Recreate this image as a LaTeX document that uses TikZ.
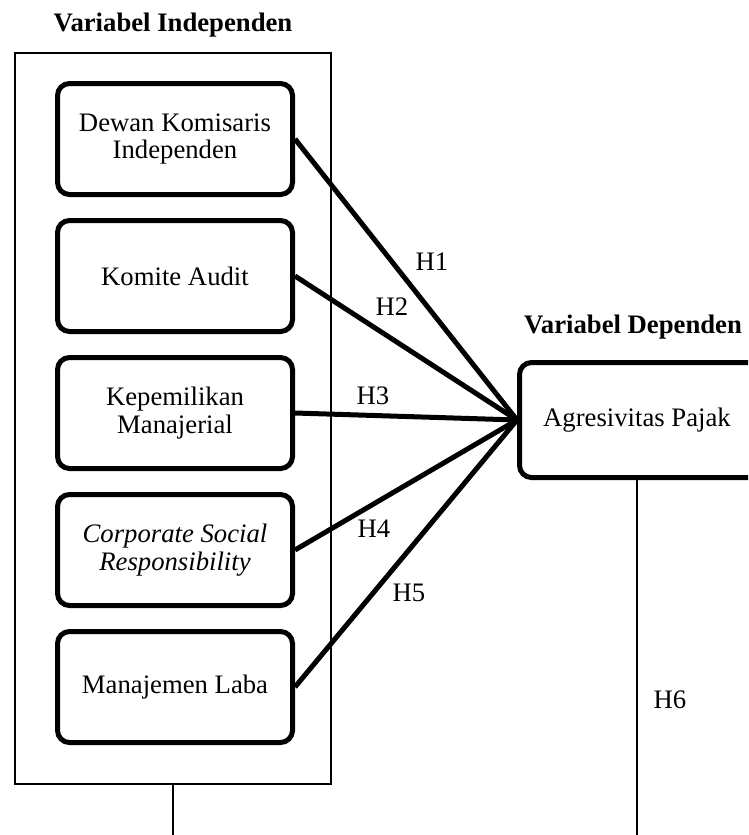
\documentclass[tikz,border=0pt]{standalone}
\usepackage{fontspec}
\setmainfont{Liberation Serif}
\usetikzlibrary{positioning, calc}

\tikzset{
  varbox/.style={draw, line width=5pt, rounded corners=12pt, inner sep=0pt,
                 minimum width=235pt, minimum height=111pt, align=center},
  groupbox/.style={draw, line width=2pt, inner sep=0pt},
  hlink/.style={line width=5pt},
  hlabel/.style={inner sep=0pt},
  title/.style={font=\fontsize{26.7}{27.5}\selectfont\bfseries, inner sep=0pt},
}

\begin{document}
\begin{tikzpicture}[x=1pt, y=-1pt, font=\fontsize{26.7}{27.5}\selectfont]
\useasboundingbox (0,0) rectangle (748,835);
\clip (0,0) rectangle (748,835);

% independent group
\node[title] (tindep) at (173,25) {Variabel Independen};
\node[groupbox, minimum width=316pt, minimum height=731pt] (indep) at (173,418.5) {};

\node[varbox] (dki) at (175,139) {Dewan Komisaris\\Independen};
\node[varbox, below=21pt of dki] (ka) {Komite Audit};
\node[varbox, below=21pt of ka] (km) {Kepemilikan\\Manajerial};
\node[varbox, below=21pt of km] (csr) {\itshape Corporate Social\\\itshape Responsibility};
\node[varbox, below=21pt of csr] (ml) {Manajemen Laba};

% dependent variable (box runs off the right edge)
\node[title] (tdep) at (633,327) {Variabel Dependen};
\node[varbox, minimum width=290pt, minimum height=115pt, anchor=west] (ap) at (517,420)
  {\makebox[235pt]{Agresivitas Pajak}\hspace{55pt}};
\coordinate (apbot) at (637,480);

% hypotheses
\draw[hlink] (dki.east) -- (ap.west);
\draw[hlink] (ka.east) -- (ap.west);
\draw[hlink] (km.east) -- (ap.west);
\draw[hlink] (csr.east) -- (ap.west);
\draw[hlink] (ml.east) -- (ap.west);

\node[hlabel] (h1) at (432,262) {H1};
\node[hlabel] (h2) at (392,307) {H2};
\node[hlabel] (h3) at (373,396) {H3};
\node[hlabel] (h4) at (374,529) {H4};
\node[hlabel] (h5) at (409,593) {H5};
\node[hlabel] (h6) at (670,700) {H6};

% bottom links
\coordinate (endL) at (173,835);
\draw[line width=2pt] (indep.south) -- (endL);
\draw[line width=2pt] (apbot) -- (apbot |- endL);
\end{tikzpicture}
\end{document}
